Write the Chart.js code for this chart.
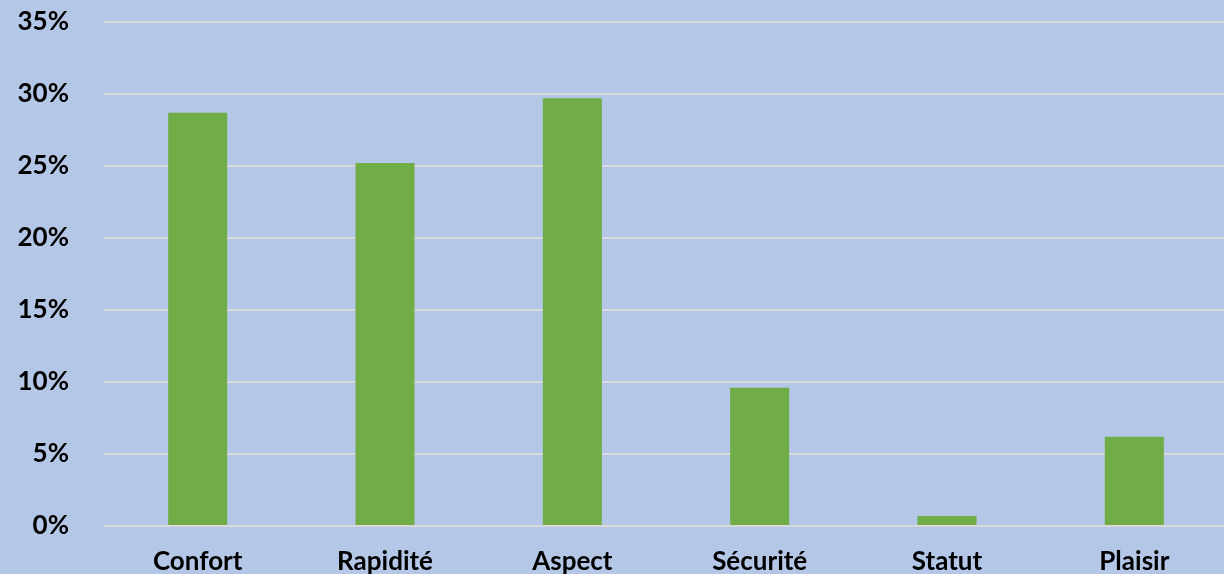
<!DOCTYPE html>
<html lang="fr">
<head>
<meta charset="utf-8">
<title>Critères de choix</title>
<script src="https://cdn.jsdelivr.net/npm/chart.js@4/dist/chart.umd.min.js"></script>
<style>
  html, body { margin: 0; padding: 0; background: #B4C7E7; overflow: hidden; }
  #wrap { width: 1228px; height: 574px; position: relative; }
</style>
</head>
<body>
<div id="wrap"><canvas id="chart"></canvas></div>
<script>
// Part des réponses par critère (en %)
const categories = ['Confort', 'Rapidité', 'Aspect', 'Sécurité', 'Statut', 'Plaisir'];
const shares = [28.7, 25.2, 29.7, 9.6, 0.7, 6.2];
const yTicks = [0, 5, 10, 15, 20, 25, 30, 35];

const labelFont = { family: 'Lato', size: 26, weight: 'bold' };

new Chart(document.getElementById('chart'), {
  type: 'bar',
  data: {
    labels: categories,
    datasets: [{
      data: shares,
      backgroundColor: '#70AD47',
      borderWidth: 0,
      barPercentage: 0.315,
      categoryPercentage: 1
    }]
  },
  options: {
    responsive: true,
    maintainAspectRatio: false,
    animation: false,
    layout: { padding: { top: 22, right: 0, bottom: 0, left: 0 } },
    plugins: { legend: { display: false }, tooltip: { enabled: false } },
    scales: {
      x: {
        grid: { display: false },
        border: { display: false },
        ticks: { color: '#000', font: labelFont, padding: 12, maxRotation: 0 },
        afterFit: (s) => { s.height = 48; s.paddingLeft = 0; s.paddingRight = 0; }
      },
      y: {
        min: yTicks[0],
        max: yTicks[yTicks.length - 1],
        afterBuildTicks: (s) => { s.ticks = yTicks.map(v => ({ value: v })); },
        grid: { color: '#D9D9D9', lineWidth: 2, drawTicks: false },
        border: { display: false },
        ticks: { color: '#000', font: labelFont, padding: 35, callback: (v) => v + '%' },
        afterFit: (s) => { s.width = 104; s.paddingTop = 0; s.paddingBottom = 0; }
      }
    }
  }
});
</script>
</body>
</html>
